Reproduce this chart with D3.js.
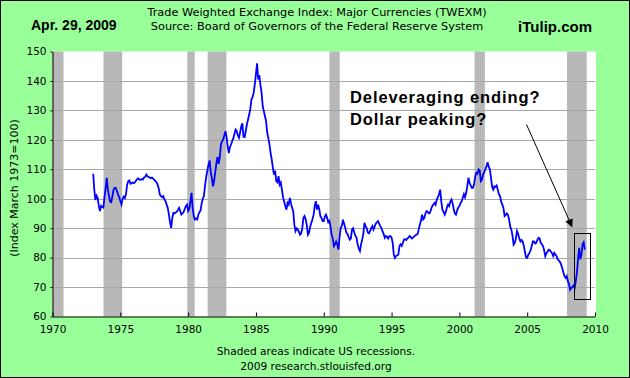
<!DOCTYPE html>
<html><head><meta charset="utf-8">
<script src="https://cdn.jsdelivr.net/npm/d3@7"></script>
<style>html,body{margin:0;padding:0;background:#99ff99}svg{display:block}</style>
</head><body>
<script>
// ---------------- DATA ----------------
const startYear = 1973; // monthly values start Jan 1973
const twexm1970s = [
  108.5,103.0,99.6,101.0,100.2,97.5,95.8,97.6,97.2,97.0,100.5,103.5,   // 1973
  107.1,103.1,100.9,99.0,98.8,100.9,103.0,103.7,103.7,102.6,101.4,100.5, // 1974
  99.2,98.1,100.0,100.7,100.2,101.5,104.8,105.9,106.2,105.1,105.3,105.5, // 1975
  105.3,105.6,106.2,106.7,106.9,106.5,106.4,106.7,106.5,107.2,107.4,108.2, // 1976
  107.6,107.4,107.2,107.0,107.2,106.8,106.5,106.0,105.6,104.8,103.5,101.4, // 1977
  100.9,100.5,100.9,99.8,99.2,98.0,96.9,94.6,92.0,90.1,93.5,95.2,        // 1978
  95.0,95.3,95.6,96.2,96.9,95.8,94.6,95.0,95.5,96.5,97.5,98.0            // 1979
];
const twexm1980s = [
  95.8,96.5,99.0,102.0,96.9,94.0,92.9,93.3,93.0,94.5,95.4,96.0,          // 1980
  98.5,100.0,101.0,104.5,107.5,109.5,111.5,113.0,109.0,107.0,104.2,106.0, // 1981
  109.0,112.0,114.2,111.8,114.0,118.4,119.5,120.1,121.5,122.9,121.0,117.8, // 1982
  115.5,117.5,118.4,119.6,120.5,122.0,123.5,123.0,121.5,120.7,122.5,124.6, // 1983
  125.6,121.0,120.9,123.0,125.2,126.9,128.5,130.5,133.7,134.5,136.0,138.8, // 1984
  142.2,146.0,140.5,142.0,138.5,136.0,131.4,129.7,128.0,126.3,122.4,120.5, // 1985
  118.4,115.5,113.3,110.5,108.2,109.5,106.0,105.6,107.7,104.8,105.5,103.0, // 1986
  100.5,99.0,97.5,96.3,98.6,98.0,100.3,98.5,96.9,95.8,91.2,89.0,         // 1987
  89.9,89.5,88.8,87.8,88.2,90.0,93.5,94.1,93.0,91.0,87.8,88.5,           // 1988
  90.5,91.8,93.0,94.5,97.5,99.2,96.3,98.0,96.5,94.1,93.5,92.4            // 1989
];
const twexm1990s = [
  92.4,94.0,94.6,93.5,92.0,92.5,90.5,87.8,86.5,83.9,84.5,85.5,           // 1990
  84.5,82.7,87.0,90.1,90.8,92.9,91.5,90.1,88.5,88.0,87.0,86.1,           // 1991
  86.5,89.5,90.0,88.5,87.5,86.7,84.5,83.0,82.2,84.5,86.1,88.0,           // 1992
  91.8,90.7,90.0,88.5,88.2,89.0,90.0,90.7,89.5,90.5,91.5,92.0,           // 1993
  92.4,91.5,90.7,90.0,89.0,88.0,86.7,87.3,87.0,86.5,87.3,87.3,           // 1994
  86.8,85.0,81.0,79.9,80.5,80.8,81.0,83.9,84.5,84.0,85.0,86.1,           // 1995
  86.3,86.0,86.5,86.8,87.3,87.0,86.5,86.8,87.2,87.5,87.8,88.0,           // 1996
  89.5,91.2,92.5,94.6,93.0,93.5,95.0,95.8,95.5,95.0,95.2,96.5,           // 1997
  97.5,98.0,98.6,98.0,99.7,100.5,101.5,103.1,99.0,96.3,95.5,94.6,        // 1998
  95.5,97.0,98.0,97.5,99.0,99.7,98.5,96.5,95.0,94.6,96.0,97.0            // 1999
];
const twexm2000s = [
  97.5,98.5,99.0,100.3,101.5,100.5,102.0,104.2,107.1,105.4,104.5,103.7,  // 2000
  103.7,105.0,107.5,108.8,108.5,109.9,109.5,106.0,106.5,108.2,109.0,110.0, // 2001
  111.0,112.4,110.8,110.0,107.0,104.0,103.1,104.2,104.0,104.5,103.0,101.5, // 2002
  100.9,99.0,98.0,96.9,94.1,94.5,95.0,94.5,93.0,90.5,89.5,87.5,          // 2003
  84.4,85.0,86.5,89.0,88.0,86.5,85.5,86.0,85.5,84.0,82.0,80.0,           // 2004
  79.9,81.0,81.6,82.5,83.9,85.5,85.5,84.8,85.0,86.0,86.7,86.5,           // 2005
  85.0,84.5,83.9,82.5,80.5,81.5,82.0,82.7,82.5,82.0,81.5,80.5,           // 2006
  81.6,81.0,80.5,79.4,79.0,78.5,77.7,76.5,75.0,73.7,73.1,73.7,           // 2007
  72.0,71.0,69.1,69.7,70.0,70.5,69.7,72.0,74.8,79.5,83.3,79.4,           // 2008
  81.0,84.5,85.2,82.7                                                    // 2009
];
const recessions = [[1969.92,1970.81],[1973.76,1975.14],[1979.94,1980.48],[1981.44,1982.82],
                    [1990.42,1991.18],[2001.12,2001.88],[2007.93,2009.39]];
const yTicks = [60,70,80,90,100,110,120,130,140,150];
const gridTicks = [70,80,90,100,110,120,130,140];
const xTicks = [1970,1975,1980,1985,1990,1995,2000,2005,2010];
const titleLines = ["Trade Weighted Exchange Index: Major Currencies (TWEXM)",
                    "Source: Board of Governors of the Federal Reserve System"];
const dateLabel = "Apr. 29, 2009";
const siteLabel = "iTulip.com";
const yAxisLabel = "(Index March 1973=100)";
const footerLines = ["Shaded areas indicate US recessions.", "2009 research.stlouisfed.org"];
const annotationLines = ["Deleveraging ending?", "Dollar peaking?"];
const arrowFrom = [2004.95, 125.2], arrowTo = [2008.3, 90.6];
const boxCorners = [[2008.45, 88.2], [2009.65, 65.8]];

// ---------------- CHART ----------------
const W = 630, H = 378;
const values = twexm1970s.concat(twexm1980s, twexm1990s, twexm2000s);
const series = values.map((v, i) => ({t: startYear + i / 12, v}));

const x = d3.scaleLinear().domain([1970, 2010]).range([52.5, 595]);
const y = d3.scaleLinear().domain([60, 150]).range([316.5, 51.5]);

const svg = d3.select("body").append("svg").attr("width", W).attr("height", H);
svg.append("rect").attr("x",0.5).attr("y",0.5).attr("width",W-1).attr("height",H-1)
   .attr("fill","#99ff99").attr("stroke","#000").attr("stroke-width",1);

// plot area
svg.append("rect").attr("x", x(1970)).attr("y", y(150)).attr("width", x(2010)-x(1970)+1)
   .attr("height", y(60)-y(150)).attr("fill", "#fff");

// recession pattern
const defs = svg.append("defs");
const pat = defs.append("pattern").attr("id","speck").attr("patternUnits","userSpaceOnUse")
  .attr("width",4).attr("height",4);
pat.append("rect").attr("width",4).attr("height",4).attr("fill","#b6b6b6");
pat.append("rect").attr("x",1).attr("y",0).attr("width",1).attr("height",1).attr("fill","#c6c6c6");
pat.append("rect").attr("x",3).attr("y",2).attr("width",1).attr("height",1).attr("fill","#c4c4c4");

svg.append("g").selectAll("rect").data(recessions).join("rect")
  .attr("x", d => x(Math.max(d[0],1970)))
  .attr("y", y(150))
  .attr("width", d => x(d[1]) - x(Math.max(d[0],1970)))
  .attr("height", y(60) - y(150))
  .attr("fill", "url(#speck)");

// gridlines
svg.append("g").selectAll("line").data(gridTicks).join("line")
  .attr("x1", x(1970)).attr("x2", x(2010))
  .attr("y1", d => Math.round(y(d)) + 0.5).attr("y2", d => Math.round(y(d)) + 0.5)
  .attr("stroke", "#a8a8a8").attr("stroke-width", 1);

// series line
const line = d3.line().x(d => x(d.t)).y(d => y(d.v));
svg.append("path").datum(series).attr("d", line).attr("fill","none")
  .attr("stroke","#0000ff").attr("stroke-width",1.8).attr("stroke-linejoin","miter");

// axes
const xAxis = d3.axisBottom(x).tickValues(xTicks).tickFormat(d3.format("d")).tickSizeInner(-4).tickSizeOuter(0).tickPadding(9);
const gx = svg.append("g").attr("transform", `translate(0,${y(60)})`).call(xAxis);
gx.select(".domain").attr("stroke","#000");
gx.selectAll(".tick line").attr("stroke","#000");
gx.selectAll("text").attr("font-family","DejaVu Sans").attr("font-size","10.5px").attr("fill","#000");

const yAxis = d3.axisLeft(y).tickValues(yTicks).tickFormat(d3.format("d")).tickSizeInner(2).tickSizeOuter(0).tickPadding(4);
const gy = svg.append("g").attr("transform", `translate(${x(1970)},0)`).call(yAxis);
gy.select(".domain").attr("stroke","#000");
gy.selectAll(".tick line").attr("stroke","#000");
gy.selectAll("text").attr("font-family","DejaVu Sans").attr("font-size","10.5px").attr("fill","#000");

// titles
svg.append("g").selectAll("text").data(titleLines).join("text")
  .attr("x", 317).attr("y", (d,i) => 16 + i*14).attr("text-anchor","middle")
  .attr("font-family","DejaVu Sans").attr("font-size","11.3px").attr("fill","#000").text(d => d);
svg.append("text").attr("x",31).attr("y",29.5).attr("font-family","Liberation Sans, Arial")
  .attr("font-weight","bold").attr("font-size","14px").attr("fill","#000").text(dateLabel);
svg.append("text").attr("x",592).attr("y",31.5).attr("text-anchor","end").attr("font-family","Liberation Sans, Arial")
  .attr("font-weight","bold").attr("font-size","15px").attr("fill","#000").text(siteLabel);

// y axis label
svg.append("text").attr("transform","translate(18,188) rotate(-90)").attr("text-anchor","middle")
  .attr("font-family","DejaVu Sans").attr("font-size","11px").attr("fill","#000").text(yAxisLabel);

// footer
svg.append("g").selectAll("text").data(footerLines).join("text")
  .attr("x", 316).attr("y", (d,i) => 355 + i*15).attr("text-anchor","middle")
  .attr("font-family","DejaVu Sans").attr("font-size","10.6px").attr("fill","#000").text(d => d);

// annotation
svg.append("g").selectAll("text").data(annotationLines).join("text")
  .attr("x", 350).attr("y", (d,i) => 103 + i*22)
  .attr("font-family","Liberation Sans, Arial").attr("font-weight","bold").attr("font-size","16.5px")
  .attr("letter-spacing","0.9px").attr("fill","#000").text(d => d);

defs.append("marker").attr("id","arrowhead").attr("viewBox","0 0 10 10").attr("refX",9).attr("refY",5)
  .attr("markerWidth",8).attr("markerHeight",8).attr("markerUnits","userSpaceOnUse").attr("orient","auto")
  .append("path").attr("d","M0,0 L10,5 L0,10 z").attr("fill","#000");
svg.append("line").attr("x1", x(arrowFrom[0])).attr("y1", y(arrowFrom[1]))
  .attr("x2", x(arrowTo[0])).attr("y2", y(arrowTo[1]))
  .attr("stroke","#000").attr("stroke-width",1).attr("marker-end","url(#arrowhead)");

svg.append("rect").attr("x", Math.round(x(boxCorners[0][0]))+0.5).attr("y", Math.round(y(boxCorners[0][1]))+0.5)
  .attr("width", Math.round(x(boxCorners[1][0]) - x(boxCorners[0][0])))
  .attr("height", Math.round(y(boxCorners[1][1]) - y(boxCorners[0][1])))
  .attr("fill","none").attr("stroke","#000").attr("stroke-width",1);
</script>
</body></html>
